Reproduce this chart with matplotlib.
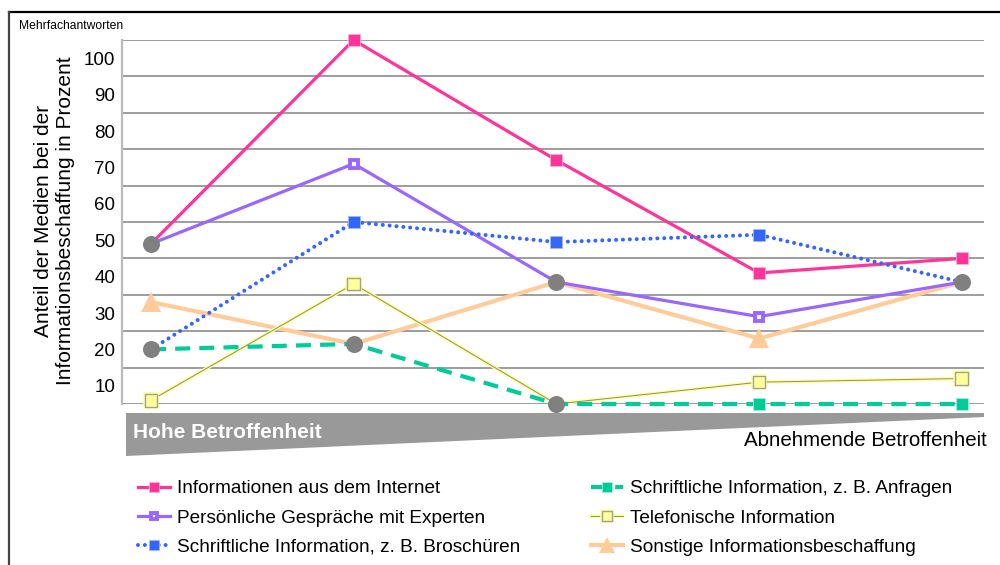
import numpy as np
import matplotlib
matplotlib.use("Agg")
import matplotlib.pyplot as plt
import matplotlib.patheffects as pe
from matplotlib.patches import Polygon
from matplotlib.lines import Line2D

plt.rcParams['font.family'] = ['Liberation Sans', 'DejaVu Sans']

# --- Daten ---
stufen = [0, 1, 2, 3, 4]  # von hoher zu abnehmender Betroffenheit
internet = [44, 100, 67, 36, 40]
experten = [44, 66, 33.5, 24, 33.5]
broschueren = [15, 50, 44.5, 46.5, 33.5]
anfragen = [15, 16.5, 0, 0, 0]
telefon = [1, 33, 0, 6, 7]
sonstige = [28, 16.5, 33.5, 18, 33.5]

labels = [
    "Informationen aus dem Internet",
    "Persönliche Gespräche mit Experten",
    "Schriftliche Information, z. B. Broschüren",
    "Schriftliche Information, z. B. Anfragen",
    "Telefonische Information",
    "Sonstige Informationsbeschaffung",
]
ytick_labels = ["10", "20", "30", "40", "50", "60", "70", "80", "90", "100"]

serien = [internet, experten, broschueren, anfragen, telefon, sonstige]

# Punkte, an denen mehrere Reihen zusammenfallen -> grauer Kreis
gemeinsam = []
for i in stufen:
    werte = [s[i] for s in serien]
    for w in sorted(set(werte)):
        if werte.count(w) > 1:
            gemeinsam.append((i, w))
gem_x = [p[0] for p in gemeinsam]
gem_y = [p[1] for p in gemeinsam]


def eigene_marker(s):
    return [i for i in stufen if (i, s[i]) not in gemeinsam]


W, H = 1000, 565
fig = plt.figure(figsize=(W / 100, H / 100), dpi=100)
ax = fig.add_axes([122 / W, 1 - 404 / H, (984 - 122) / W, (404 - 40) / H])

stile = [
    dict(color='#FF3399', lw=2.3, marker='s', ms=9, mfc='#FF3399', mec='#FFB0D0', mew=0.6),
    dict(color='#9966FF', lw=2.3, marker='s', ms=6.2, mfc='white', mec='#9966FF', mew=2.8),
    dict(color='#3366FF', lw=2.9, ls=(0, (0.01, 1.7)), dash_capstyle='round',
         marker='s', ms=9, mfc='#3366FF', mec='#A0B8FF', mew=0.6),
    dict(color='#00CC99', lw=3, ls=(0, (3.6, 2.2)), marker='s', ms=9,
         mfc='#00CC99', mec='#A0F0D8', mew=0.6),
    dict(color='#8C8C70', lw=0.7, marker='s', ms=9, mfc='#FFFF99', mec='#A0A0A0', mew=1.0,
         path_effects=[pe.Stroke(linewidth=2.6, foreground='#FFFF99'), pe.Normal()]),
    dict(color='#FFCC99', lw=3, marker='^', ms=14, mfc='#FFCC99', mec='#FFCC99', mew=0),
]
zorders = [6, 5, 7, 4, 3, 2]

handles = []
for s, lab, st, z in zip(serien, labels, stile, zorders):
    ln, = ax.plot(stufen, s, label=lab, markevery=eigene_marker(s),
                  clip_on=False, zorder=z, **st)
    handles.append(ln)

ax.scatter(gem_x, gem_y, s=150, color='#808080', zorder=10, clip_on=False, linewidths=0)

ax.set_xlim(-0.143, 4.11)
ax.set_ylim(0, 100)
ax.set_xticks([])
ax.set_yticks(np.arange(5, 100, 10))
ax.set_yticklabels(ytick_labels, fontsize=13.5)
ax.set_yticks(np.arange(0, 101, 10), minor=True)
ax.tick_params(axis='y', which='both', length=0, pad=5)
ax.grid(axis='y', which='minor', color='#8C8C8C', lw=1.2)
ax.set_axisbelow(True)
for sp in ['top', 'right', 'bottom']:
    ax.spines[sp].set_visible(False)
ax.spines['left'].set_color('#BBBBBB')
ax.spines['left'].set_linewidth(1.6)

# Keil "Betroffenheit"
keil = [(126, 413), (984, 413), (984, 417), (126, 456)]
fig.add_artist(Polygon([(x / W, 1 - y / H) for x, y in keil], closed=True,
                       transform=fig.transFigure, facecolor='#999999', edgecolor='none'))
fig.text(133 / W, 1 - 432 / H, "Hohe Betroffenheit", color='white', fontweight='bold',
         fontsize=15, va='center', ha='left')
fig.text(987 / W, 1 - 441 / H, "Abnehmende Betroffenheit", fontsize=14.8, va='center', ha='right')

fig.text(55 / W, 1 - 221 / H, "Anteil der Medien bei der\nInformationsbeschaffung in Prozent",
         rotation=90, ha='center', va='center', fontsize=15, linespacing=1.2)
fig.text(19 / W, 1 - 26 / H, "Mehrfachantworten", fontsize=8.7, va='center', ha='left')

# Rahmen
fig.add_artist(Line2D([9 / W, 1], [1 - 12 / H, 1 - 12 / H], transform=fig.transFigure,
                      color='black', lw=1.6))
fig.add_artist(Line2D([9 / W, 9 / W], [0, 1 - 12 / H], transform=fig.transFigure,
                      color='#444444', lw=1.6))

fig.legend(handles=handles, loc='upper left', bbox_to_anchor=(138 / W, 1 - 480 / H),
           ncol=2, frameon=False, fontsize=13.7, handlelength=1.7, handletextpad=0.37,
           labelspacing=0.63, columnspacing=3.7, markerscale=0.8, borderpad=0,
           borderaxespad=0)

fig.savefig("out.png", dpi=100)
